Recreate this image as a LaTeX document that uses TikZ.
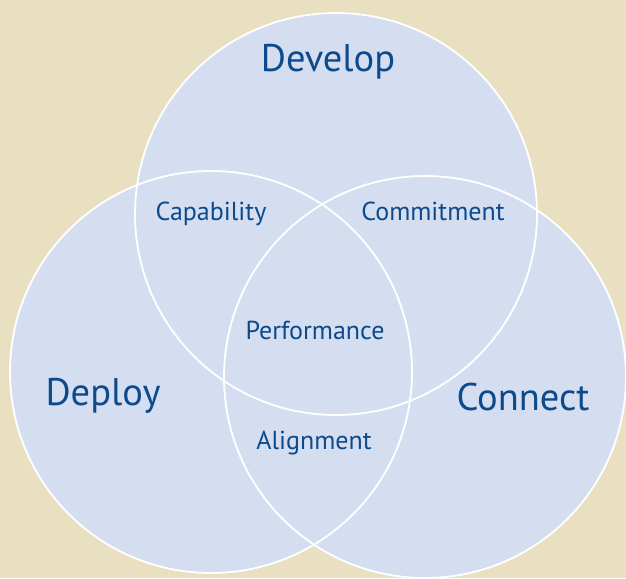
\documentclass[tikz,border=0pt]{standalone}
\usepackage{fontspec}
\setmainfont{PT Sans}
\usepackage{tikz}
\definecolor{sand}{RGB}{233,223,193}
\definecolor{setfill}{RGB}{213,222,240}
\definecolor{labelblue}{RGB}{12,74,140}
\begin{document}
\begin{tikzpicture}[x=1pt,y=-1pt,
  setcircle/.style={circle,minimum size=402pt,inner sep=0pt},
  biglabel/.style={anchor=base,text=labelblue,font=\fontsize{38.5}{42}\selectfont},
  smalllabel/.style={anchor=base,text=labelblue,font=\fontsize{26}{30}\selectfont}]
\fill [sand] (0,0) rectangle (626,578);
\useasboundingbox (0,0) rectangle (626,578);

% the three sets, filled first, outlined after
\node (develop) at (336,214) [setcircle,fill=setfill] {};
\node (deploy) at (211,372) [setcircle,fill=setfill] {};
\node (connect) at (425,377) [setcircle,fill=setfill] {};
\node at (develop) [setcircle,draw=white,line width=1.8pt] {};
\node at (deploy) [setcircle,draw=white,line width=1.8pt] {};
\node at (connect) [setcircle,draw=white,line width=1.8pt] {};

\node (dev) at (328,71) [biglabel] {Develop};
\node (dep) at (103,405) [biglabel] {Deploy};
\node (con) at (523,410) [biglabel] {Connect};
\node (cap) at (211,220) [smalllabel] {Capability};
\node (com) at (433,220) [smalllabel] {Commitment};
\node (per) at (315,339) [smalllabel] {Performance};
\node (ali) at (314,449) [smalllabel] {Alignment};

\end{tikzpicture}
\end{document}
